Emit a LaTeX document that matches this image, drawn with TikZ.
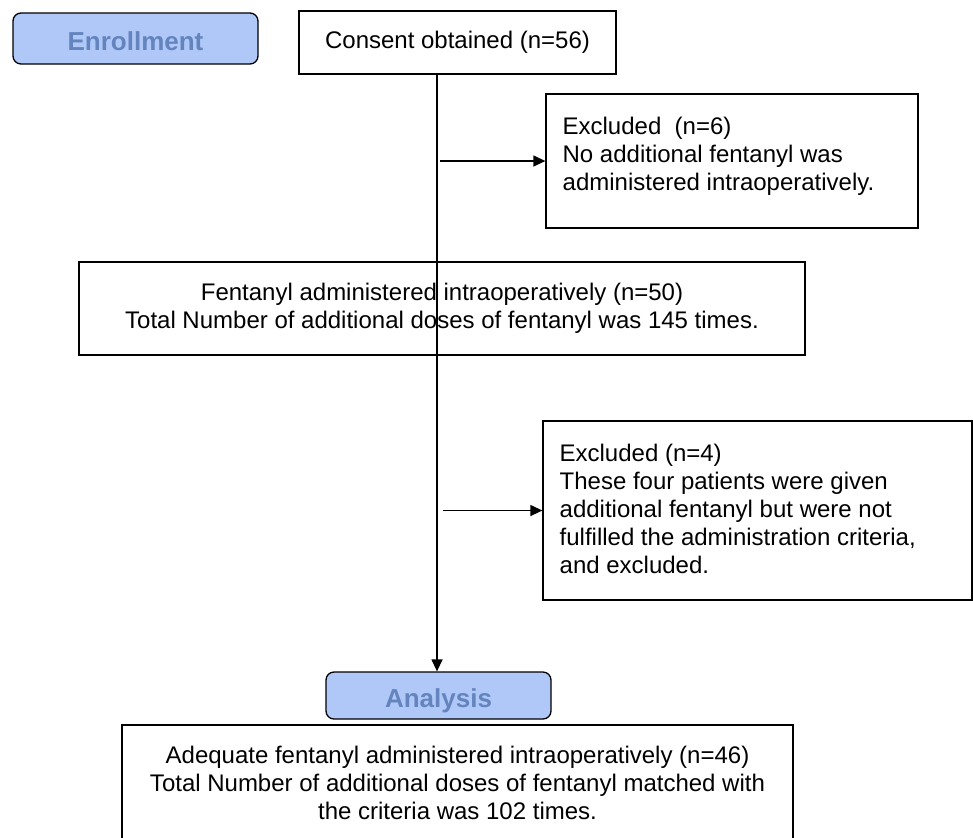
\documentclass[tikz,border=0pt]{standalone}
\usepackage{fontspec}
\setmainfont{Liberation Sans}
\usetikzlibrary{arrows.meta}
\definecolor{phasefill}{RGB}{176,200,248}
\definecolor{phasetext}{RGB}{99,132,189}
\begin{document}
\begin{tikzpicture}[x=0.5pt,y=-0.5pt,line width=0.65pt,
    every node/.style={font=\fontsize{12}{14}\selectfont},
    phase/.style={draw,rounded corners=4pt,fill=phasefill,text=phasetext,text height=11.5pt,text depth=0pt,font=\fontsize{13}{15}\selectfont\bfseries},
    box/.style={draw,rectangle,align=center},
    note/.style={inner sep=0pt,align=left,anchor=north west},
    >={Triangle[length=6pt,width=5.5pt]}]
  \useasboundingbox (0,0) rectangle (973,837);
  \coordinate (spine) at (437,0);
  \node (Enroll) at (135.5,38.5) [phase,minimum width=122.5pt,minimum height=25.5pt] {Enrollment};
  \node (Consent) at (457.5,42.5) [box,minimum width=158.5pt,minimum height=31.5pt] {Consent obtained (n=56)};
  \node (ExA) at (732,161) [box,minimum width=186pt,minimum height=67pt] {};
  \node (ExAtext) at (562,116) [note] {Excluded\ \ (n=6)\\No additional fentanyl was\\administered intraoperatively.};
  \node (Given) at (442,308.5) [box,minimum width=363pt,minimum height=46.5pt] {Fentanyl administered intraoperatively (n=50)\\Total Number of additional doses of fentanyl was 145 times.};
  \node (ExB) at (757.5,510.5) [box,minimum width=214.5pt,minimum height=89.5pt] {};
  \node (ExBtext) at (559,443.5) [note] {Excluded (n=4)\\These four patients were given\\additional fentanyl but were not\\fulfilled the administration criteria,\\and excluded.};
  \node (Analysis) at (438.5,695.5) [phase,minimum width=112.5pt,minimum height=23.5pt] {Analysis};
  \node (Adequate) at (457.5,783) [box,minimum width=335.5pt,minimum height=58pt] {Adequate fentanyl administered intraoperatively (n=46)\\Total Number of additional doses of fentanyl matched with\\the criteria was 102 times.};
  \draw [->] (Consent.south -| spine) -- (Analysis.north -| spine);
  \draw [->] ([xshift=1.5pt]spine |- ExA.west) -- (ExA.west);
  \draw [->] ([xshift=3pt]spine |- ExB.west) -- (ExB.west);
\end{tikzpicture}
\end{document}
